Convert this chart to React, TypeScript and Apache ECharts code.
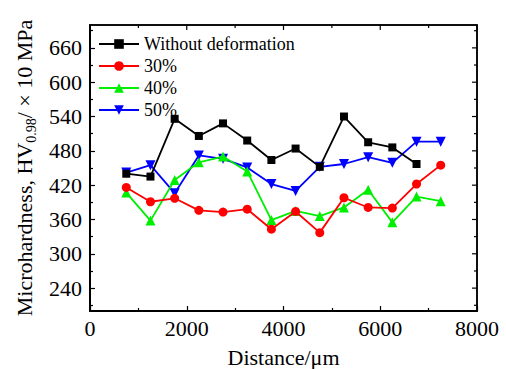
import React, { useEffect, useRef } from "react";
import * as echarts from "echarts";

const distances = [750, 1250, 1750, 2250, 2750, 3250, 3750, 4250, 4750, 5250, 5750, 6250, 6750, 7250];
const withoutDeformation = [440, 435, 536, 506, 528, 498, 464, 484, 452, 540, 495, 486, 457];
const deform30 = [416, 391, 397, 376, 373, 378, 343, 374, 337, 398, 381, 380, 422, 455];
const deform40 = [407, 358, 429, 460, 470, 444, 359, 375, 366, 381, 412, 355, 400, 392];
const deform50 = [442, 455, 406, 472, 466, 451, 422, 410, 452, 457, 469, 459, 496, 496];

const seriesNames = ["Without deformation", "30%", "40%", "50%"];
const xRange = [0, 8000];
const yRange = [200, 700];
const xTicks = [0, 2000, 4000, 6000, 8000];
const xMinorTicks = [1000, 3000, 5000, 7000];
const yLabels = [240, 300, 360, 420, 480, 540, 600, 660];
const yMinorTicks = [210, 270, 330, 390, 450, 510, 570, 630, 690];

const FONT = "Liberation Serif, Times New Roman, serif";

function pairs(vals: number[]) {
  return vals.map((v, i) => [distances[i], v]);
}

export default function App() {
  const ref = useRef<HTMLDivElement>(null);
  useEffect(() => {
    if (!ref.current) return;
    const chart = echarts.init(ref.current, null, { renderer: "svg" });
    const mkLine = () => ({ show: true, onZero: false, lineStyle: { color: "#000", width: 1.5 } });
    const mkTick = (vals: number[], len: number) => ({
      show: true,
      inside: true,
      length: len,
      lineStyle: { color: "#000", width: 1.2 },
      customValues: vals.slice(),
    });
    const colors = ["#000000", "#ff0000", "#00ee00", "#0000ff"];
    const symbols = ["rect", "circle", "triangle", "path://M0,0 L10,0 L5,9 Z"];
    const sizes = [8, 9, 10, 10];
    const datas = [withoutDeformation, deform30, deform40, deform50];
    const dataSeries = seriesNames.map((name, i) => ({
      name,
      type: "line",
      xAxisIndex: 0,
      yAxisIndex: 0,
      data: pairs(datas[i]),
      symbol: symbols[i],
      symbolSize: sizes[i],
      showAllSymbol: true,
      lineStyle: { color: colors[i], width: 1.8 },
      itemStyle: { color: colors[i] },
      z: 10 - i,
    }));

    // Frame + top/right inward ticks drawn through the axes' own coordinate system.
    const frameSeries = {
      name: "frame",
      type: "custom",
      xAxisIndex: 0,
      yAxisIndex: 0,
      silent: true,
      clip: false,
      z: 50,
      data: [[xRange[0], yRange[0]]],
      renderItem: (_params: any, api: any) => {
        const tl = api.coord([xRange[0], yRange[1]]);
        const br = api.coord([xRange[1], yRange[0]]);
        const children: any[] = [
          {
            type: "rect",
            shape: { x: tl[0], y: tl[1], width: br[0] - tl[0], height: br[1] - tl[1] },
            style: { fill: "none", stroke: "#000", lineWidth: 1.5 },
          },
        ];
        const tickStyle = { stroke: "#000", lineWidth: 1.2 };
        xTicks.forEach((v) => {
          const p = api.coord([v, yRange[1]]);
          children.push({ type: "line", shape: { x1: p[0], y1: p[1], x2: p[0], y2: p[1] + 5 }, style: tickStyle });
        });
        xMinorTicks.forEach((v) => {
          const p = api.coord([v, yRange[1]]);
          children.push({ type: "line", shape: { x1: p[0], y1: p[1], x2: p[0], y2: p[1] + 3 }, style: tickStyle });
        });
        yLabels.forEach((v) => {
          const p = api.coord([xRange[1], v]);
          children.push({ type: "line", shape: { x1: p[0], y1: p[1], x2: p[0] - 5, y2: p[1] }, style: tickStyle });
        });
        yMinorTicks.forEach((v) => {
          const p = api.coord([xRange[1], v]);
          children.push({ type: "line", shape: { x1: p[0], y1: p[1], x2: p[0] - 3, y2: p[1] }, style: tickStyle });
        });
        return { type: "group", children };
      },
    };

    chart.setOption({
      animation: false,
      grid: {
        left: 90,
        right: 29,
        top: 25,
        bottom: 58,
        outerBoundsMode: "none",
        show: true,
        borderColor: "#000",
        borderWidth: 1.5,
      },
      legend: {
        orient: "vertical",
        left: 98,
        top: 35,
        padding: 0,
        itemWidth: 40,
        itemHeight: 12,
        itemGap: 4,
        data: seriesNames,
        textStyle: { fontFamily: FONT, fontSize: 18, color: "#000" },
      },
      xAxis: [
        {
          type: "value",
          min: xRange[0],
          max: xRange[1],
          position: "bottom",
          splitLine: { show: false },
          axisLine: mkLine(),
          axisTick: mkTick(xTicks, 5),
          axisLabel: {
            customValues: xTicks.slice(),
            formatter: (v: number) => String(v),
            fontFamily: FONT,
            fontSize: 22,
            color: "#000",
            margin: 6,
          },
          name: "Distance/\u03bcm",
          nameLocation: "middle",
          nameGap: 35,
          nameTextStyle: { fontFamily: FONT, fontSize: 22, color: "#000" },
        },
        {
          type: "value",
          min: xRange[0],
          max: xRange[1],
          position: "bottom",
          splitLine: { show: false },
          axisLine: mkLine(),
          axisTick: mkTick(xMinorTicks, 3),
          axisLabel: { show: false },
        },
      ],
      yAxis: [
        {
          type: "value",
          min: yRange[0],
          max: yRange[1],
          position: "left",
          splitLine: { show: false },
          axisLine: mkLine(),
          axisTick: mkTick(yLabels, 5),
          axisLabel: {
            customValues: yLabels.slice(),
            formatter: (v: number) => String(v),
            fontFamily: FONT,
            fontSize: 22,
            color: "#000",
            margin: 8,
          },
          name: "Microhardness, HV{sub|0.98}/ \u00d7 10 MPa",
          nameLocation: "middle",
          nameRotate: 90,
          nameGap: 52,
          nameTextStyle: {
            fontFamily: FONT,
            fontSize: 22,
            color: "#000",
            lineHeight: 28,
            rich: {
              sub: {
                fontFamily: FONT,
                fontSize: 14,
                color: "#000",
                verticalAlign: "bottom",
                lineHeight: 16,
              },
            },
          },
        },
        {
          type: "value",
          min: yRange[0],
          max: yRange[1],
          position: "left",
          splitLine: { show: false },
          axisLine: mkLine(),
          axisTick: mkTick(yMinorTicks, 3),
          axisLabel: { show: false },
        },
      ],
      series: [
        ...dataSeries,
        { name: "frameA", type: "line", xAxisIndex: 1, yAxisIndex: 1, data: [], silent: true },
        frameSeries,
      ],
    });
    return () => chart.dispose();
  }, []);
  return (
    <div
      ref={ref}
      style={{ position: "fixed", left: 0, top: 0, width: 506, height: 369, background: "#fff" }}
    />
  );
}
